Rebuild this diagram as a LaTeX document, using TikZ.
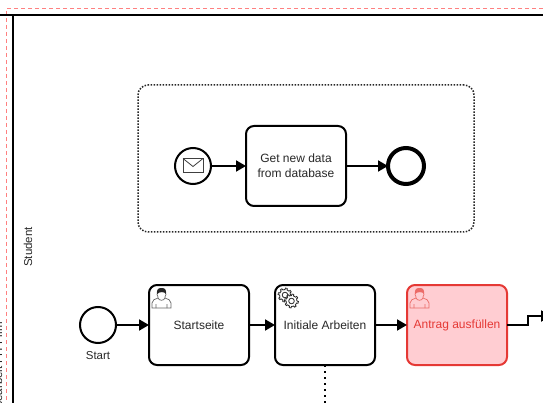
\documentclass[tikz,border=0pt]{standalone}
\usepackage{fontspec}
\setmainfont{Liberation Sans}
\usetikzlibrary{arrows.meta,positioning,calc}
\definecolor{rotFehler}{RGB}{229,57,53}
\definecolor{rotFlaeche}{RGB}{255,205,210}
\definecolor{grauText}{RGB}{40,40,40}
\definecolor{rotRahmen}{RGB}{255,128,128}
\tikzset{
  aufgabe/.style={rectangle, draw=black, line width=2pt, fill=white, outer sep=0pt,
                  rounded corners=8pt, minimum width=100pt, minimum height=80pt,
                  align=center, font=\fontsize{12}{15}\selectfont, text=grauText},
  fehler/.style={aufgabe, draw=rotFehler, fill=rotFlaeche, text=rotFehler},
  ereignis/.style={circle, draw=black, line width=2pt, fill=white, outer sep=0pt,
                   minimum size=36pt, inner sep=0pt},
  endereignis/.style={ereignis, line width=4pt, minimum size=36pt},
  seta/.style={-{Triangle[length=10pt,width=11pt]}, line width=2pt},
  bahn/.style={line width=2pt},
  rahmen/.style={draw=rotRahmen, line width=1.2pt, dash pattern=on 4pt off 3pt},
  gruppe/.style={rectangle, draw=black!85, line width=1.5pt, dash pattern=on 1.5pt off 1.5pt,
                 rounded corners=10pt, minimum width=336pt, minimum height=147pt},
  punktlinie/.style={line width=2pt, dash pattern=on 2pt off 4pt},
  beschrift/.style={font=\fontsize{11.5}{14}\selectfont, text=grauText},
  declare function={zahn(\t)=5.4+1.5*(sin(8*\t)>0);},
}
\begin{document}
\begin{tikzpicture}[x=1pt,y=-1pt]
  \useasboundingbox (0,0) rectangle (543,403);
  \clip (0,0) rectangle (543,403);
  % rahmen und bahnen
  \coordinate (rahmenA) at (543,8.5);
  \coordinate (rahmenB) at (6.5,8.5);
  \coordinate (rahmenC) at (6.5,403);
  \draw[rahmen] (rahmenA) -- (rahmenB) -- (rahmenC);
  \coordinate (bahnL) at (0,15);
  \coordinate (bahnR) at (543,15);
  \coordinate (bahnO) at (13,15);
  \coordinate (bahnU) at (13,403);
  \draw[bahn] (bahnL) -- (bahnR);
  \draw[bahn] (bahnO) -- (bahnU);
  \node[beschrift, rotate=90] (student) at (28,247) {Student};
  \node[beschrift, rotate=90, anchor=east] (pool) at (-2,318) {Sachbearbeit FH Firm};
  % gruppe oben
  \node[gruppe] (gruppeOben) at (306,158.5) {};
  \node[ereignis] (nachricht) at (193,166) {};
  \node[aufgabe] (neueDaten) at (296,166) {Get new data\\from database};
  \node[endereignis] (ende) at (406,166) {};
  \draw[seta] (nachricht)--(neueDaten);
  \draw[seta] (neueDaten)--(ende);
  \draw[line width=0.8pt, draw=black!75] ($(nachricht)+(-10,-7.5)$) rectangle ($(nachricht)+(10,6.5)$);
  \draw[line width=0.8pt, draw=black!75] ($(nachricht)+(-10,-7.5)$) -- ($(nachricht)+(0,0.5)$) -- ($(nachricht)+(10,-7.5)$);
  % untere reihe
  \node[ereignis] (start) at (98,325) {};
  \node[beschrift, below=5pt of start] (startText) {Start};
  \node[aufgabe] (startseite) at (199,325) {Startseite};
  \node[aufgabe] (initial) at (325,325) {Initiale Arbeiten};
  \node[fehler] (antrag) at (457,325) {Antrag ausfüllen};
  \draw[seta] (start)--(startseite);
  \draw[seta] (startseite)--(initial);
  \draw[seta] (initial)--(antrag);
  \coordinate (weiter) at (551,316);
  \draw[seta] (antrag.east) -- ++(21,0) -- ++(0,-9) -- (weiter);
  \coordinate (unten) at (325,403);
  \draw[punktlinie] (initial.south) -- (unten);
  % symbole
  \foreach \wo/\farbe/\haar in {startseite/black!60/black!85, antrag/rotFehler!75/rotFehler!75}{
    \begin{scope}[shift={($(\wo.north west)+(3,3)$)}]
      \draw[line width=0.7pt, draw=\farbe] (0,20) -- (0,15) .. controls (0,12) and (3,11) .. (6,10)
        -- (6,9) .. controls (4,6) and (5,1) .. (9.5,1) .. controls (14,1) and (15,6) .. (13,9) -- (13,10)
        .. controls (16,11) and (19,12) .. (19,15) -- (19,20) -- cycle;
      \draw[line width=0.7pt, draw=\farbe] (4,20) -- (4,16) (15,20) -- (15,16)
        (6,10) .. controls (7,13) and (12,13) .. (13,10);
      \fill[\haar] (5.2,6) .. controls (4.5,1.5) and (6,0) .. (9.5,0) .. controls (13,0) and (14.5,1.5) .. (13.8,6)
        .. controls (13,3.5) and (7,3.5) .. cycle;
    \end{scope}
  }
  \foreach \mx/\my in {10/10, 16.5/16}{
    \begin{scope}[shift={($(initial.north west)+(\mx,\my)$)}]
      \draw[line width=0.8pt, draw=black!85, fill=white] plot[domain=0:360, samples=97]
        ({zahn(\x)*cos(\x)},{zahn(\x)*sin(\x)});
      \draw[line width=0.8pt, draw=black!85] (0,0) circle (2.8);
    \end{scope}
  }
\end{tikzpicture}
\end{document}
